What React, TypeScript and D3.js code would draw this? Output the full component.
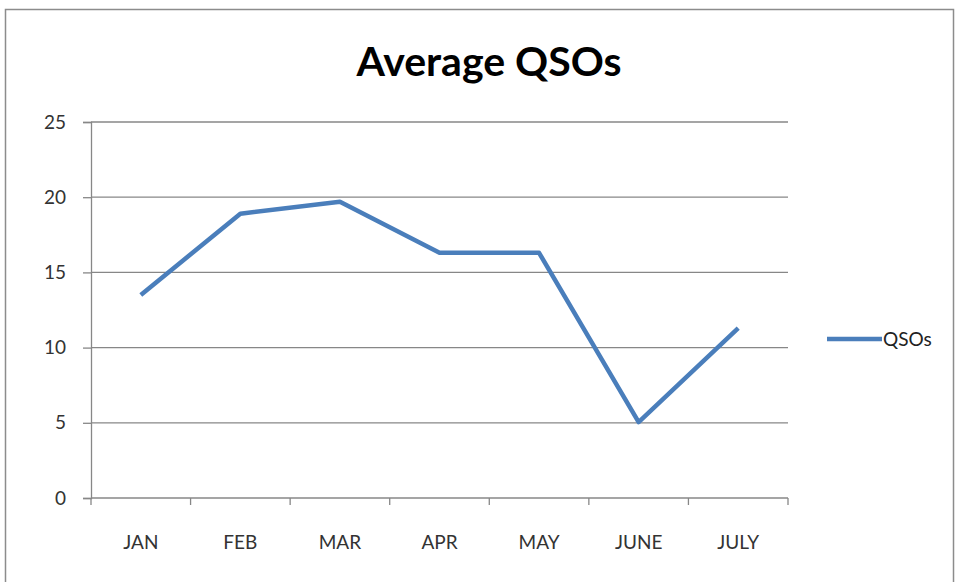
import { useEffect, useRef } from "react";
import * as d3 from "d3";

const MONTHS = ["JAN", "FEB", "MAR", "APR", "MAY", "JUNE", "JULY"];
const QSOS = [13.5, 18.9, 19.7, 16.3, 16.3, 5.05, 11.3];
const Y_TICKS = [0, 5, 10, 15, 20, 25];

const FONT = "Lato, 'Open Sans', sans-serif";

export default function App() {
  const svgRef = useRef<SVGSVGElement>(null);

  useEffect(() => {
    if (!svgRef.current) return;
    const W = 958;
    const H = 582;
    const m = { top: 122, right: 170, bottom: 84, left: 91 };
    const iW = 788 - m.left;
    const iH = H - m.top - m.bottom;

    const root = d3.select(svgRef.current);
    root.selectAll("*").remove();
    root.attr("width", W).attr("height", H);

    root.append("rect")
      .attr("width", W).attr("height", H).attr("fill", "#fff");

    // cadre
    root.append("rect")
      .attr("x", 5.5).attr("y", 9.5)
      .attr("width", W - 10).attr("height", H)
      .attr("fill", "none").attr("stroke", "#8c8c8c").attr("stroke-width", 1.5);

    root.append("text")
      .attr("x", 489).attr("y", 76)
      .attr("text-anchor", "middle")
      .style("font-family", FONT)
      .style("font-weight", "bold")
      .style("font-size", "41px")
      .style("fill", "#000")
      .text("Average QSOs");

    const svg = root.append("g").attr("transform", `translate(${m.left},${m.top})`);

    const x = d3.scaleBand().domain(MONTHS).range([0, iW]);
    const y = d3.scaleLinear().domain([0, 25]).range([iH, 0]);

    // grille
    svg.selectAll(".grid")
      .data(Y_TICKS.filter(d => d > 0))
      .join("line")
      .attr("x1", 0).attr("x2", iW)
      .attr("y1", d => y(d)).attr("y2", d => y(d))
      .attr("stroke", "#878787").attr("stroke-width", 1.3);

    // axe Y
    const ay = svg.append("g")
      .call(d3.axisLeft(y).tickValues(Y_TICKS).tickSize(8).tickPadding(17).tickFormat(d3.format("d")));
    ay.select(".domain").attr("stroke", "#878787").attr("stroke-width", 1.3);
    ay.selectAll(".tick line").attr("stroke", "#878787").attr("stroke-width", 1.3);
    ay.selectAll("text")
      .style("font-family", FONT)
      .style("font-size", "19px").style("fill", "#333");

    // axe X
    const ax = svg.append("g").attr("transform", `translate(0,${iH})`);
    ax.append("line")
      .attr("x1", 0).attr("x2", iW)
      .attr("stroke", "#878787").attr("stroke-width", 1.3);
    ax.selectAll(".xt")
      .data([...MONTHS.map(d => x(d)!), iW])
      .join("line")
      .attr("x1", d => d).attr("x2", d => d)
      .attr("y1", 0).attr("y2", 7)
      .attr("stroke", "#878787").attr("stroke-width", 1.3);
    ax.selectAll(".xl")
      .data(MONTHS)
      .join("text")
      .attr("x", d => x(d)! + x.bandwidth() / 2)
      .attr("y", 51)
      .attr("text-anchor", "middle")
      .style("font-family", FONT)
      .style("font-size", "19px").style("fill", "#333")
      .text(d => d);

    const line = d3.line<number>()
      .x((_, i) => x(MONTHS[i])! + x.bandwidth() / 2)
      .y(d => y(d));

    svg.append("path")
      .datum(QSOS)
      .attr("fill", "none")
      .attr("stroke", "#4a7ebb")
      .attr("stroke-width", 4.5)
      .attr("stroke-linejoin", "round")
      .attr("d", line);

    // légende
    const lg = root.append("g").attr("transform", "translate(827,339)");
    lg.append("line")
      .attr("x1", 0).attr("x2", 55)
      .attr("stroke", "#4a7ebb").attr("stroke-width", 4.5);
    lg.append("text")
      .attr("x", 56).attr("y", 7)
      .style("font-family", FONT)
      .style("font-size", "19px").style("fill", "#222")
      .text("QSOs");
  }, []);

  return (
    <div style={{ position: "absolute", left: 0, top: 0 }}>
      <svg ref={svgRef} style={{ display: "block" }} />
    </div>
  );
}
